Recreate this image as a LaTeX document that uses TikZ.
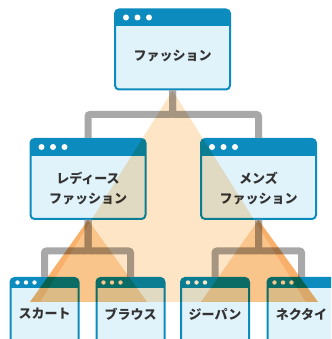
\documentclass[tikz,border=0pt]{standalone}
\usepackage{fontspec}
\newfontfamily\jpfont{Noto Sans CJK JP}
\usetikzlibrary{arrows}

\definecolor{winblue}{RGB}{12,140,190}
\definecolor{winbody}{RGB}{225,243,250}
\definecolor{linkgray}{RGB}{168,168,168}
\definecolor{fanlight}{RGB}{253,229,197}
\definecolor{fandark}{RGB}{250,197,138}
\definecolor{inkgray}{RGB}{51,51,51}

\tikzset{
  boxbase/.style={draw=winblue, fill=winbody, line width=2pt, rounded corners=4pt, inner sep=0pt},
  bigwin/.style={boxbase, minimum width=115pt, minimum height=80pt,
    path picture={
      \fill[winblue, sharp corners] (path picture bounding box.north west) rectangle ([yshift=-17pt]path picture bounding box.north east);
      \foreach \k in {0,1,2}
        \fill[white] ([xshift={11pt+\k*11.5pt}, yshift=-8pt]path picture bounding box.north west) circle (3pt);
    }},
  smallwin/.style={boxbase, minimum width=68pt, minimum height=78pt,
    path picture={
      \fill[winblue, sharp corners] (path picture bounding box.north west) rectangle ([yshift=-10pt]path picture bounding box.north east);
      \foreach \k in {0,1,2}
        \fill[white] ([xshift={7pt+\k*8.5pt}, yshift=-4.5pt]path picture bounding box.north west) circle (2.2pt);
    }},
  wintext/.style={font=\jpfont\bfseries\fontsize{13}{20}\selectfont, text=inkgray, align=center, inner sep=0pt},
  link/.style={draw=linkgray, line width=7pt, rounded corners=2pt},
  fan/.style={blend mode=multiply, even odd rule}
}

\begin{document}
\begin{tikzpicture}[x=1pt,y=1pt]
\useasboundingbox (0,0) rectangle (331,339);
\clip (0,0) rectangle (331,339);

\node[bigwin] (fashion) at (172.5,289.5) {};
\node[bigwin] (ladies) [below of=fashion, node distance=129.5pt, xshift=-84.5pt] {};
\node[bigwin] (mens) [below of=fashion, node distance=129.5pt, xshift=86pt] {};
\node[smallwin] (skirt) [below of=ladies, node distance=138pt, xshift=-43.5pt] {};
\node[smallwin] (blouse) [below of=ladies, node distance=138pt, xshift=42.5pt] {};
\node[smallwin] (jeans) [below of=mens, node distance=138pt, xshift=-43.5pt] {};
\node[smallwin] (necktie) [below of=mens, node distance=138pt, xshift=43pt] {};

\node[wintext] (fashion-t) at ([yshift=-47pt]fashion.north) {ファッション};
\node[wintext] (ladies-t) at ([yshift=-50.5pt]ladies.north) {レディース\\ファッション};
\node[wintext] (mens-t) at ([yshift=-50.5pt]mens.north) {メンズ\\ファッション};
\node[wintext] (skirt-t) at ([yshift=-37pt]skirt.north) {スカート};
\node[wintext] (blouse-t) at ([yshift=-37pt]blouse.north) {ブラウス};
\node[wintext] (jeans-t) at ([yshift=-37pt]jeans.north) {ジーパン};
\node[wintext] (necktie-t) at ([yshift=-37pt]necktie.north) {ネクタイ};

% tree links
\draw[link] (fashion.south) -- ++(0,-24) -| (ladies.north);
\draw[link] (fashion.south) -- ++(0,-24) -| (mens.north);
\draw[link] (ladies.south) -- ++(0,-31) -| (skirt.north);
\draw[link] (ladies.south) -- ++(0,-31) -| (blouse.north);
\draw[link] (mens.south) -- ++(0,-31) -| (jeans.north);
\draw[link] (mens.south) -- ++(0,-31) -| (necktie.north);

% fans
\coordinate (bigL) at (40,37);
\coordinate (bigR) at (306,37);
\coordinate (ladiesL) at (30,37);
\coordinate (ladiesR) at (147,37);
\coordinate (mensL) at (201,37);
\coordinate (mensR) at (318,37);
\fill[fan, fanlight] (fashion.south) -- (bigL) -- (bigR) -- cycle
  (ladies.south) -- (ladiesL) -- (ladiesR) -- cycle
  (mens.south) -- (mensL) -- (mensR) -- cycle;
\fill[fan, fandark] (ladies.south) -- (ladiesL) -- (ladiesR) -- cycle;
\fill[fan, fandark] (mens.south) -- (mensL) -- (mensR) -- cycle;
\end{tikzpicture}
\end{document}
